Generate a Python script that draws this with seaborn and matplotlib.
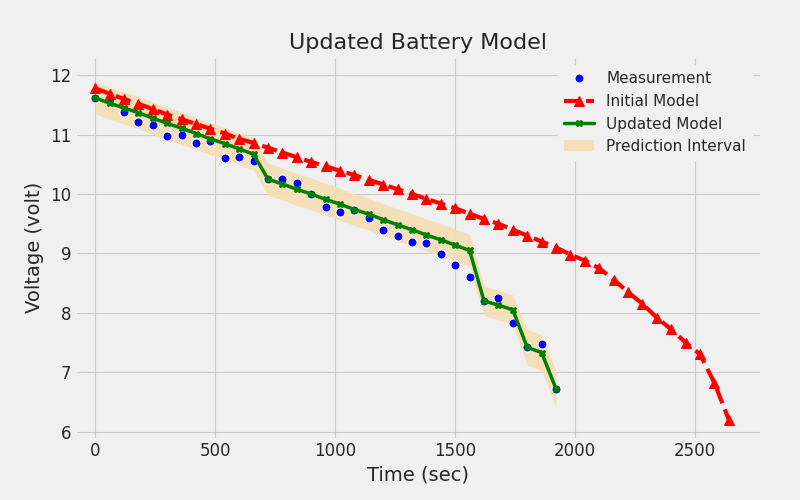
import numpy as np
import matplotlib
matplotlib.use("Agg")
import matplotlib.pyplot as plt
import seaborn as sns

# Data
time_meas = list(range(0, 1921, 60))
measured = [11.62, 11.62, 11.38, 11.22, 11.16, 10.97, 10.99, 10.86, 10.89, 10.60, 10.63,
            10.55, 10.25, 10.26, 10.19, 10.00, 9.79, 9.70, 9.73, 9.60, 9.39, 9.29, 9.20,
            9.17, 8.99, 8.80, 8.60, 8.20, 8.25, 7.83, 7.42, 7.48, 6.72]
updated = [11.62, 11.53, 11.45, 11.37, 11.28, 11.19, 11.11, 11.02, 10.93, 10.85, 10.76,
           10.67, 10.25, 10.17, 10.08, 10.00, 9.91, 9.83, 9.74, 9.66, 9.57, 9.48, 9.40,
           9.31, 9.23, 9.14, 9.05, 8.20, 8.13, 8.05, 7.42, 7.33, 6.72]
half_width = [0.27] * 27 + [0.25, 0.25, 0.25, 0.3, 0.3, 0.3]

time_init = list(range(0, 2641, 60))
initial = [11.78, 11.69, 11.60, 11.52, 11.43, 11.34, 11.26, 11.18, 11.10, 11.02, 10.93,
           10.86, 10.78, 10.70, 10.62, 10.54, 10.47, 10.39, 10.32, 10.24, 10.16, 10.08,
           10.00, 9.92, 9.84, 9.76, 9.67, 9.58, 9.50, 9.40, 9.30, 9.20, 9.10, 8.98,
           8.88, 8.75, 8.56, 8.35, 8.15, 7.92, 7.72, 7.50, 7.30, 6.82, 6.20]

sns.set_style("whitegrid", {"axes.facecolor": "#f0f0f0", "figure.facecolor": "#f0f0f0",
                            "grid.color": "#cbcbcb", "axes.edgecolor": "#f0f0f0"})
plt.rcParams['font.family'] = ['DejaVu Sans']

fig, ax = plt.subplots(figsize=(8, 5), dpi=100)
upd = np.array(updated)
hw = np.array(half_width)
ax.fill_between(time_meas, upd - hw, upd + hw, color="#f5deb3", alpha=0.9,
                linewidth=0, label="Prediction Interval")
sns.lineplot(x=time_meas, y=measured, ax=ax, color="blue", marker="o", linestyle="",
             markersize=6.5, label="Measurement")
sns.lineplot(x=time_init, y=initial, ax=ax, color="red", marker="^", linestyle="--",
             linewidth=3, markersize=6.5, markeredgecolor="red", label="Initial Model")
sns.lineplot(x=time_meas, y=updated, ax=ax, color="green", marker="X", linewidth=2.5,
             markersize=4.5, markeredgecolor="green", label="Updated Model")

handles, labels = ax.get_legend_handles_labels()
order = [1, 2, 3, 0]
ax.legend([handles[i] for i in order], [labels[i] for i in order], loc="upper right",
          fontsize=11, facecolor="#f0f0f0", edgecolor="#f0f0f0", framealpha=1)

ax.set_xlim(-80, 2770)
ax.set_ylim(5.9, 12.3)
ax.set_xticks([0, 500, 1000, 1500, 2000, 2500])
ax.set_yticks([6, 7, 8, 9, 10, 11, 12])
ax.tick_params(labelsize=12, length=0)
ax.set_xlabel("Time (sec)", fontsize=14)
ax.set_ylabel("Voltage (volt)", fontsize=14)
ax.set_title("Updated Battery Model", fontsize=16)
fig.subplots_adjust(left=0.095, right=0.95, top=0.885, bottom=0.125)
fig.savefig("out.png", dpi=100, facecolor=fig.get_facecolor())
